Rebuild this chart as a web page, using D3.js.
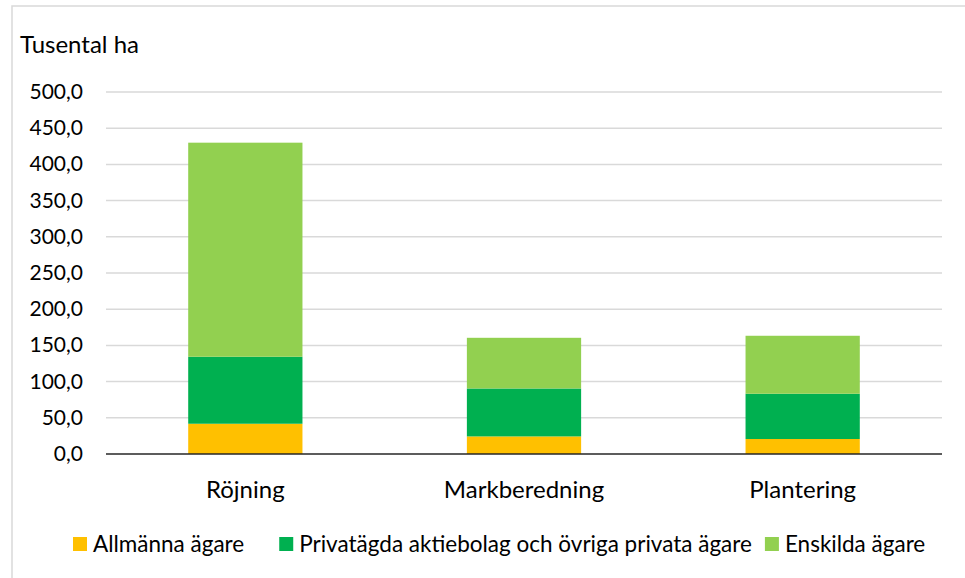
<!DOCTYPE html>
<html>
<head>
<meta charset="utf-8">
<script src="https://cdn.jsdelivr.net/npm/d3@7"></script>
<style>
  body { margin: 0; background: #fff; }
  svg { font-family: Lato, "Open Sans", sans-serif; }
</style>
</head>
<body>
<svg width="965" height="578"></svg>
<script>
// data (tusental ha)
const categories = ['Röjning', 'Markberedning', 'Plantering'];
const seriesNames = ['Allmänna ägare', 'Privatägda aktiebolag och övriga privata ägare', 'Enskilda ägare'];
const allmanna = [41.8, 24.3, 20.7];
const privata = [92.5, 66.2, 62.5];
const enskilda = [295.7, 70.0, 80.1];
const yTicks = [0, 50, 100, 150, 200, 250, 300, 350, 400, 450, 500];
const colors = ['#FFC000', '#00B050', '#92D050'];

const svg = d3.select('svg');

// outer chart border
svg.append('rect')
  .attr('x', 12).attr('y', 6)
  .attr('width', 965).attr('height', 600)
  .attr('fill', 'none')
  .attr('stroke', '#d9d9d9')
  .attr('stroke-width', 1.5);

const plotLeft = 106, plotRight = 942, plotTop = 92, plotBottom = 454;

const x = d3.scaleBand()
  .domain(categories)
  .range([plotLeft, plotRight])
  .paddingInner(0.59)
  .paddingOuter(0.295);

const y = d3.scaleLinear()
  .domain([0, 500])
  .range([plotBottom, plotTop]);

// gridlines
svg.append('g')
  .selectAll('line')
  .data(yTicks.filter(d => d > 0))
  .join('line')
  .attr('x1', plotLeft).attr('x2', plotRight)
  .attr('y1', d => y(d)).attr('y2', d => y(d))
  .attr('stroke', '#d9d9d9')
  .attr('stroke-width', 1.5);

// y tick labels
svg.append('g')
  .selectAll('text')
  .data(yTicks)
  .join('text')
  .attr('x', 83)
  .attr('y', d => y(d) + 7)
  .attr('text-anchor', 'end')
  .attr('font-size', 21)
  .attr('fill', '#000')
  .text(d => d3.format('.1f')(d).replace('.', ','));

// stacked bars
const table = categories.map((c, i) => ({
  cat: c, s0: allmanna[i], s1: privata[i], s2: enskilda[i]
}));
const stack = d3.stack().keys(['s0', 's1', 's2'])(table);

svg.append('g')
  .selectAll('g')
  .data(stack)
  .join('g')
  .attr('fill', (d, i) => colors[i])
  .selectAll('rect')
  .data(d => d)
  .join('rect')
  .attr('x', d => x(d.data.cat))
  .attr('width', x.bandwidth())
  .attr('y', d => y(d[1]))
  .attr('height', d => y(d[0]) - y(d[1]));

// baseline
svg.append('line')
  .attr('x1', plotLeft).attr('x2', plotRight)
  .attr('y1', y(0)).attr('y2', y(0))
  .attr('stroke', '#262626')
  .attr('stroke-width', 1.5);

// category labels
svg.append('g')
  .selectAll('text')
  .data(categories)
  .join('text')
  .attr('x', d => x(d) + x.bandwidth() / 2)
  .attr('y', 498)
  .attr('text-anchor', 'middle')
  .attr('font-size', 24)
  .attr('fill', '#000')
  .text(d => d);

// axis title
svg.append('text')
  .attr('x', 20).attr('y', 53)
  .attr('font-size', 24)
  .attr('fill', '#000')
  .text('Tusental ha');

// legend
const legendGaps = [35, 13, 0];
let lx = 73;
seriesNames.forEach((name, i) => {
  svg.append('rect')
    .attr('x', lx).attr('y', 537)
    .attr('width', 14).attr('height', 14)
    .attr('fill', colors[i]);
  const t = svg.append('text')
    .attr('x', lx + 20).attr('y', 552)
    .attr('font-size', 22.5)
    .attr('fill', '#000')
    .text(name);
  lx += 20 + t.node().getComputedTextLength() + legendGaps[i];
});
</script>
</body>
</html>
